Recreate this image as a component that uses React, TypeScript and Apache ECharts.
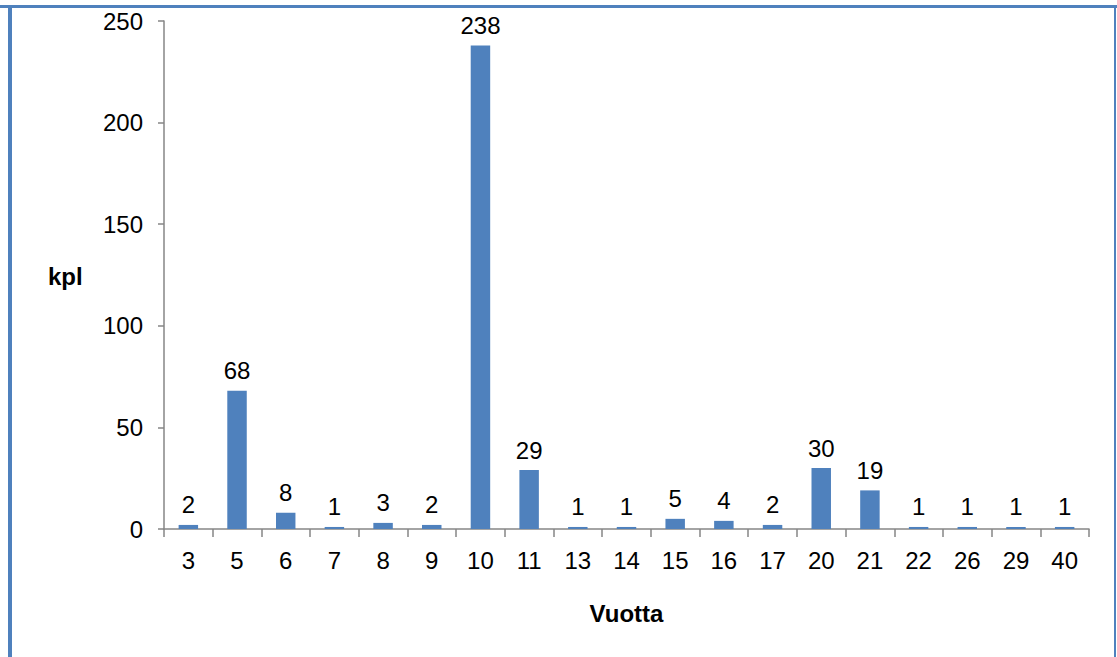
import React, { useEffect, useRef } from "react";
import * as echarts from "echarts";

const categories = ["3", "5", "6", "7", "8", "9", "10", "11", "13", "14", "15", "16", "17", "20", "21", "22", "26", "29", "40"];
const counts = [2, 68, 8, 1, 3, 2, 238, 29, 1, 1, 5, 4, 2, 30, 19, 1, 1, 1, 1];
const xTitle = "Vuotta";
const yTitle = "kpl";

const FONT = "'Liberation Sans', Arial, sans-serif";
const BLUE = "#4F81BD";
const AXIS = "#868686";
const FS = 24;

export default function App() {
  const ref = useRef<HTMLDivElement>(null);
  useEffect(() => {
    if (!ref.current) return;
    const chart = echarts.init(ref.current, undefined, { renderer: "svg" });
    chart.setOption({
      animation: false,
      backgroundColor: "#ffffff",
      grid: { left: 164, right: 28, top: 21, bottom: 128, containLabel: false },
      graphic: [
        { type: "rect", shape: { x: 0, y: 5, width: 1117, height: 3 }, style: { fill: BLUE } },
        { type: "rect", shape: { x: 8, y: 5, width: 4, height: 652 }, style: { fill: BLUE } },
        { type: "rect", shape: { x: 1114, y: 5, width: 2, height: 652 }, style: { fill: BLUE } },
        {
          type: "text",
          left: 48,
          top: 264,
          style: { text: yTitle, font: `bold ${FS}px ${FONT}`, fill: "#000" },
        },
      ],
      xAxis: {
        type: "category",
        data: categories,
        name: xTitle,
        nameLocation: "middle",
        nameGap: 72,
        nameTextStyle: { fontFamily: FONT, fontSize: FS, fontWeight: "bold", color: "#000" },
        axisLine: { show: true, lineStyle: { color: AXIS, width: 1.5 } },
        axisTick: { show: true, length: 8, inside: false, lineStyle: { color: AXIS, width: 1.5 } },
        axisLabel: { fontFamily: FONT, fontSize: FS, color: "#000", margin: 19 },
        splitLine: { show: false },
      },
      yAxis: {
        type: "value",
        min: 0,
        max: 250,
        interval: 50,
        axisLine: { show: true, lineStyle: { color: AXIS, width: 1.5 } },
        axisTick: { show: true, length: 6, lineStyle: { color: AXIS, width: 1.5 } },
        axisLabel: { fontFamily: FONT, fontSize: FS, color: "#000", margin: 21 },
        splitLine: { show: false },
      },
      series: [
        {
          type: "bar",
          data: counts,
          barWidth: "40%",
          itemStyle: { color: BLUE },
          label: {
            show: true,
            position: "top",
            distance: 8,
            fontFamily: FONT,
            fontSize: FS,
            color: "#000",
          },
        },
      ],
    });
    return () => chart.dispose();
  }, []);
  return <div ref={ref} style={{ width: 1117, height: 657, position: "absolute", left: 0, top: 0 }} />;
}
